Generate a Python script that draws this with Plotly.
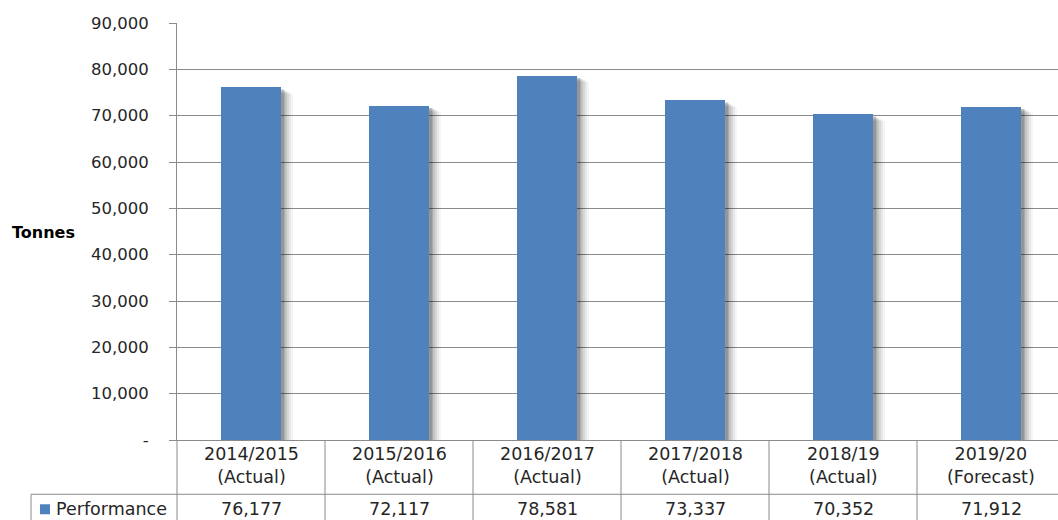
import plotly.graph_objects as go

# Annual tonnage by financial year
years = ["2014/2015", "2015/2016", "2016/2017", "2017/2018", "2018/19", "2019/20"]
status = ["(Actual)", "(Actual)", "(Actual)", "(Actual)", "(Actual)", "(Forecast)"]
performance = [76177, 72117, 78581, 73337, 70352, 71912]
series_name = "Performance"
y_ticks = [0, 10000, 20000, 30000, 40000, 50000, 60000, 70000, 80000, 90000]
y_tick_text = ["-" if v == 0 else f"{v:,}" for v in y_ticks]

# Page / plot-area geometry (pixels)
W, H = 1058, 520
L, T, B = 177, 22.5, 439.7
PW, PH = W - L, B - T
CAT_PX = 148.0  # width of one category slot

FONT = "DejaVu Sans"
BLUE = "#4F81BD"
GRID = "#8a8a8a"
TEXT = "#262626"


def px_x(p):
    return (p - L) / PW


def px_y(p):
    return (B - p) / PH


x_idx = list(range(len(years)))
x_max = -0.5 + PW / CAT_PX
bar_w = 60 / CAT_PX

fig = go.Figure()

# soft drop shadow to the lower right of each column
units_per_px_y = 90000 / PH
for k, alpha in [(11, 0.04), (9, 0.05), (7, 0.07), (5, 0.09), (3, 0.12), (1.5, 0.12)]:
    fig.add_trace(go.Bar(
        x=x_idx, y=performance,
        base=[-(k / 2 + 1) * units_per_px_y] * len(performance),
        width=bar_w + k / CAT_PX,
        offset=-bar_w / 2 + 1 / CAT_PX,
        marker=dict(color=f"rgba(0,0,0,{alpha})", line=dict(width=0)),
        hoverinfo="skip", showlegend=False,
    ))

fig.add_trace(go.Bar(
    x=x_idx, y=performance, name=series_name,
    width=bar_w, offset=-bar_w / 2,
    marker=dict(color=BLUE, line=dict(width=0)),
    showlegend=False,
))

shapes = []
line = dict(color=GRID, width=1)
# vertical borders of the data table
shapes.append(dict(type="line", xref="paper", yref="paper",
                   x0=0, x1=0, y0=0, y1=px_y(H + 5), line=line))
for i in range(len(years)):
    xb = i + 0.5
    shapes.append(dict(type="line", xref="x", yref="paper",
                       x0=xb, x1=xb, y0=0, y1=px_y(H + 5), line=line))
# row separator and legend cell border
shapes.append(dict(type="line", xref="paper", yref="paper",
                   x0=px_x(31), x1=1.01, y0=px_y(494), y1=px_y(494), line=line))
shapes.append(dict(type="line", xref="paper", yref="paper",
                   x0=px_x(31), x1=px_x(31), y0=px_y(494), y1=px_y(H + 5), line=line))
# legend key
shapes.append(dict(type="rect", xref="paper", yref="paper",
                   x0=px_x(40), x1=px_x(50), y0=px_y(504), y1=px_y(514),
                   fillcolor=BLUE, line=dict(width=0)))

annotations = []
for i, (yr, st, v) in enumerate(zip(years, status, performance)):
    annotations.append(dict(x=i, y=px_y(465), xref="x", yref="paper",
                            text=f"{yr}<br>{st}", showarrow=False,
                            font=dict(family=FONT, size=17.5, color=TEXT),
                            xanchor="center", yanchor="middle"))
    annotations.append(dict(x=i, y=px_y(509), xref="x", yref="paper",
                            text=f"{v:,}", showarrow=False,
                            font=dict(family=FONT, size=17.5, color=TEXT),
                            xanchor="center", yanchor="middle"))
annotations.append(dict(x=px_x(54), y=px_y(509), xref="paper", yref="paper",
                        text=series_name, showarrow=False,
                        font=dict(family=FONT, size=17.5, color=TEXT),
                        xanchor="left", yanchor="middle"))
annotations.append(dict(x=px_x(10), y=px_y(232), xref="paper", yref="paper",
                        text="<b>Tonnes</b>", showarrow=False,
                        font=dict(family=FONT, size=16, color="#000000"),
                        xanchor="left", yanchor="middle"))

fig.update_layout(
    width=W, height=H,
    margin=dict(l=L, r=0, t=T, b=H - B, pad=0),
    paper_bgcolor="white", plot_bgcolor="white",
    barmode="overlay", bargap=0,
    shapes=shapes, annotations=annotations,
    xaxis=dict(range=[-0.5, x_max], showticklabels=False, showgrid=False,
               zeroline=False, showline=True, linecolor=GRID, linewidth=1,
               ticks="", fixedrange=True),
    yaxis=dict(range=[0, 90000], tickvals=y_ticks, ticktext=y_tick_text,
               showgrid=True, gridcolor=GRID, gridwidth=1,
               zeroline=False, showline=True, linecolor=GRID, linewidth=1,
               ticks="outside", ticklen=7, tickcolor=GRID, tickwidth=1,
               ticklabelstandoff=17,
               tickfont=dict(family=FONT, size=16.5, color=TEXT), fixedrange=True),
)

fig.write_html("out.html")
